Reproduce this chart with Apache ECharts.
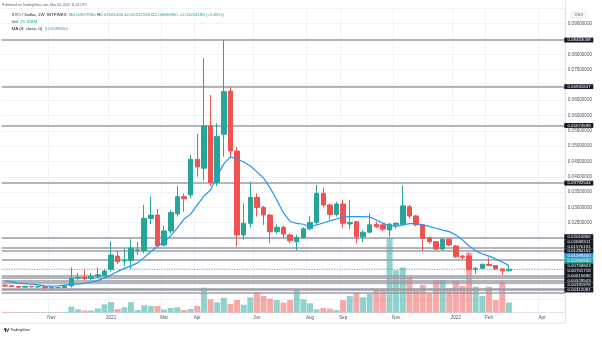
<!DOCTYPE html>
<html>
<head>
<meta charset="utf-8">
<script src="https://cdn.jsdelivr.net/npm/echarts@6/dist/echarts.min.js"></script>
<style>
html,body{margin:0;padding:0;background:#fff;}
#chart{width:602px;height:337px;}
</style>
</head>
<body>
<div id="chart"></div>
<script>
// Weekly XYO/USD candles (Bitfinex), Sep 2020 – Mar 2022
const opens = [0.0046,0.0044,0.0042,0.00395,0.0042,0.00405,0.0041,0.00375,0.00385,0.0038,
  0.0044,0.0069,0.0073,0.0068,0.0074,0.0077,0.0098,0.0141,0.0125,0.0126,
  0.0158,0.0159,0.0264,0.0275,0.0177,0.0223,0.0279,0.0335,0.0341,0.0457,
  0.0428,0.0566,0.0381,0.0539,0.0680,0.0484,0.0210,0.0248,0.0333,0.0300,
  0.0275,0.0221,0.0235,0.0210,0.0188,0.0202,0.0230,0.0251,0.0346,0.0308,
  0.0277,0.0311,0.0246,0.0253,0.0204,0.0219,0.0245,0.0243,0.0226,0.0243,
  0.0245,0.0302,0.0272,0.0243,0.0201,0.0188,0.0164,0.0196,0.0174,0.0141,
  0.0141,0.0098,0.0101,0.0114,0.0110,0.0099,0.0092796];
const highs = [0.0048,0.0046,0.0044,0.0044,0.0043,0.00425,0.0042,0.0040,0.0040,0.0046,
  0.01045,0.0086,0.0098,0.0086,0.0104,0.0098,0.0188,0.0158,0.0166,0.0196,
  0.0188,0.0308,0.0335,0.0295,0.0240,0.0290,0.0370,0.0345,0.0471,0.0540,
  0.0787,0.0667,0.0575,0.08463038,0.06941847,0.0497,0.0313,0.0384,0.0345,0.0305,
  0.0280,0.0245,0.0240,0.0215,0.0210,0.0235,0.0272,0.0373,0.0365,0.0312,
  0.0318,0.0324,0.0324,0.0256,0.0225,0.0281,0.0253,0.0246,0.0248,0.0252,
  0.0372,0.0308,0.0275,0.0246,0.0205,0.0190,0.0199,0.0199,0.0178,0.0145,
  0.0152,0.0105,0.0117,0.0136,0.0112,0.0101,0.010914];
const lows = [0.0040,0.0040,0.0038,0.00385,0.0039,0.00385,0.0036,0.0036,0.00365,0.0037,
  0.0038,0.0064,0.0062,0.0064,0.0070,0.0072,0.0090,0.0115,0.0108,0.0098,
  0.0145,0.0150,0.0245,0.0170,0.0172,0.0215,0.0270,0.0286,0.0330,0.0400,
  0.0387,0.0370,0.0370,0.0466,0.0461,0.0172,0.0195,0.0235,0.0270,0.0243,
  0.0183,0.0215,0.0200,0.0183,0.0161,0.0198,0.0225,0.0245,0.0300,0.0261,
  0.0270,0.0232,0.0229,0.0183,0.0188,0.0215,0.0232,0.0222,0.0204,0.0232,
  0.0240,0.0265,0.0238,0.0159,0.0182,0.0160,0.0161,0.0173,0.0135,0.0130,
  0.0094,0.0083,0.0099,0.0108,0.0097,0.0079,0.0091218];
const closes = [0.0043,0.00415,0.00395,0.0042,0.00405,0.0041,0.00375,0.00385,0.0038,0.0044,
  0.00686,0.0071,0.0068,0.0075,0.0080,0.0092,0.01446,0.01228,0.0128,0.0167,
  0.0161,0.0264,0.0275,0.01756,0.0223,0.0283,0.0335,0.0328,0.0457,0.0432,
  0.0566,0.0381,0.0531,0.0678,0.0484,0.0210,0.0248,0.0333,0.0300,0.0275,
  0.0221,0.0235,0.0213,0.0191,0.0202,0.0230,0.0251,0.0346,0.0308,0.0277,
  0.0311,0.0248,0.0251,0.0204,0.0219,0.0243,0.0237,0.0229,0.0245,0.0248,
  0.0305,0.0272,0.0243,0.0199,0.0188,0.0164,0.0196,0.0177,0.0139,0.0137,
  0.0098,0.0101,0.0114,0.0110,0.0099,0.00928,0.009809];
// weekly volume, millions
const volumes = [1.5,1.2,1.0,1.3,1.0,1.1,1.4,1.2,1.0,1.6,
  14.7,8.1,5,5,10.7,20.8,26.7,8.9,13.2,25.9,
  6.4,18.3,16.5,16.5,7.6,11.4,13.2,6.4,8.9,16.5,
  63,33.5,25.9,37.6,21.6,31.8,19.8,38.6,51.3,41.9,
  35.1,31.8,24.9,31.8,57.9,33.5,23.4,8.1,11.4,9.7,
  6.4,31.8,41.9,50,38.6,47,57.9,57.9,190,107.2,
  114.3,90.2,58.9,69.9,47,82.6,82.6,60.5,80.8,67.3,
  151.9,65.5,41.9,65.5,31.8,77.5,25.358];
// MA (9, close)
const maValues = [0.0060,0.0057,0.0053,0.0051,0.0049,0.0047,0.0044,0.0043,0.0044,0.0046,
  0.0048,0.0050,0.0052,0.0056,0.0061,0.0070,0.0079,0.0091,0.0101,0.0109,
  0.0119,0.0136,0.0156,0.0172,0.0187,0.0208,0.0233,0.0262,0.0278,0.0308,
  0.0337,0.0357,0.0403,0.0442,0.0465,0.0458,0.0448,0.0435,0.0416,0.0396,
  0.0363,0.0324,0.0282,0.0254,0.0248,0.0245,0.0237,0.0243,0.0249,0.0256,
  0.0262,0.0269,0.0270,0.0270,0.0270,0.0269,0.0259,0.0248,0.0241,0.0238,
  0.0243,0.0247,0.0247,0.0243,0.0238,0.0232,0.0226,0.0221,0.0210,0.0194,
  0.0174,0.0158,0.0148,0.0141,0.0132,0.0122,0.0109945];

// horizontal price levels drawn on the chart
const levels = [0.08463038,0.06941847,0.05674598,0.03792544,0.02010866,0.01686511,0.01570191,
  0.01284152,0.00758803,0.00701718,0.00615696,0.00529543,0.00331976,0.00312081];
const extraLevels = [0.0020];
const lastClose = 0.009809;
const lastMA = 0.0109945;

const priceTicks = [0.025,0.03,0.035,0.04,0.045,0.05,0.055,0.06,0.065,0.075,0.08,0.09];
const tickWeeks = ['2020-11-02','2021-01-04','2021-03-01','2021-04-05','2021-06-07','2021-08-02',
  '2021-09-06','2021-11-01','2022-01-03','2022-02-07','2022-04-04'];
const tickLabels = ['Nov','2021','Mar','Apr','Jun','Aug','Sep','Nov','2022','Feb','Apr'];

// weekly category axis, extended past the last bar into empty space
const weekCount = 85;
const weekStart = Date.UTC(2020, 8, 14);
const weeks = [];
for (let k = 0; k < weekCount; k++) {
  weeks.push(new Date(weekStart + k * 7 * 86400000).toISOString().slice(0, 10));
}

const UP = '#26a69a', DOWN = '#ef5350';
const TEXT = '#131722', AXIS_TEXT = '#50535e', GRID = '#f0f3fa';
const FONT = 'Liberation Sans, Arial, sans-serif';

const candleData = opens.map((o, k) => [o, closes[k], lows[k], highs[k]]);
const volumeData = volumes.map((v, k) => ({
  value: v,
  itemStyle: { color: closes[k] >= opens[k] ? 'rgba(38,166,154,0.5)' : 'rgba(239,83,80,0.5)' }
}));
const tickIndex = new Set(tickWeeks.map(w => weeks.indexOf(w)));
const tickText = {};
tickWeeks.forEach((w, k) => { tickText[w] = tickLabels[k]; });

const chart = echarts.init(document.getElementById('chart'), null, { renderer: 'canvas' });

const gridLeft = 1.7, gridWidth = 563.55, gridTop = 8.3;

const option = {
  animation: false,
  backgroundColor: '#ffffff',
  textStyle: { fontFamily: FONT },
  grid: [
    { left: gridLeft, top: gridTop, width: gridWidth, height: 306.3 },
    { left: gridLeft, top: gridTop, width: gridWidth, height: 304.2 }
  ],
  xAxis: [
    {
      type: 'category', gridIndex: 0, data: weeks, boundaryGap: true,
      axisLine: { show: false }, axisTick: { show: false }, axisLabel: { show: false },
      splitLine: { show: true, interval: (i) => tickIndex.has(i), lineStyle: { color: GRID, width: 1 } }
    },
    {
      type: 'category', gridIndex: 1, data: weeks, boundaryGap: true,
      axisLine: { show: true, lineStyle: { color: '#e0e3eb', width: 1 } },
      axisTick: { show: false },
      splitLine: { show: false },
      axisLabel: {
        show: true, interval: (i) => tickIndex.has(i), formatter: (w) => tickText[w] || '',
        fontSize: 4.6, color: AXIS_TEXT, margin: 2.9, fontFamily: FONT
      }
    }
  ],
  yAxis: [
    {
      type: 'value', gridIndex: 0, position: 'right', min: -0.005, max: 0.095, interval: 0.005,
      axisLine: { show: true, lineStyle: { color: '#e0e3eb', width: 1 } },
      axisTick: { show: false },
      splitLine: { show: true, showMinLine: false, lineStyle: { color: GRID, width: 1 } },
      axisLabel: {
        show: true, margin: 2.5, fontSize: 4.6, color: AXIS_TEXT, fontFamily: FONT,
        formatter: (v) => priceTicks.some(t => Math.abs(t - v) < 1e-9) ? v.toFixed(8) : ''
      }
    },
    {
      type: 'value', gridIndex: 1, min: 0, max: 772, show: false,
      splitLine: { show: false }
    }
  ],
  series: [
    {
      name: 'Vol', type: 'bar', xAxisIndex: 1, yAxisIndex: 1, data: volumeData,
      barWidth: '90%', z: 1, silent: true
    },
    {
      name: 'XYO', type: 'candlestick', xAxisIndex: 0, yAxisIndex: 0, data: candleData,
      barWidth: 5, z: 3, silent: true,
      itemStyle: { color: UP, color0: DOWN, borderColor: UP, borderColor0: DOWN, borderWidth: 1 },
      markLine: {
        silent: true, symbol: ['none', 'none'], animation: false, z: 2, precision: 8,
        label: { show: false },
        data: levels.concat(extraLevels).map(v => ({
          yAxis: v, lineStyle: { color: '#9a9da5', width: 1.6, type: 'solid' }
        })).concat([{ yAxis: lastClose, lineStyle: { color: UP, width: 0.8, type: [1, 1.5] } }])
      }
    },
    {
      name: 'MA', type: 'line', xAxisIndex: 0, yAxisIndex: 0, data: maValues,
      symbol: 'none', smooth: false, z: 4, silent: true,
      lineStyle: { color: '#2196f3', width: 1.2 }
    }
  ]
};

chart.setOption(option);

// right-hand price labels, stacked so they never overlap
function priceLabels() {
  const entries = levels.map(v => ({ v, text: v.toFixed(8), bg: TEXT }));
  entries.push({ v: lastMA, text: lastMA.toFixed(8), bg: '#2196f3' });
  entries.push({ v: lastClose, text: lastClose.toFixed(8), bg: UP });
  entries.forEach(e => { e.y = chart.convertToPixel({ yAxisIndex: 0 }, e.v); });
  entries.sort((a, b) => a.y - b.y);
  const gap = 4.85, floor = 290;
  for (let k = 1; k < entries.length; k++) entries[k].y = Math.max(entries[k].y, entries[k - 1].y + gap);
  entries[entries.length - 1].y = Math.min(entries[entries.length - 1].y, floor);
  for (let k = entries.length - 2; k >= 0; k--) entries[k].y = Math.min(entries[k].y, entries[k + 1].y - gap);
  const out = [];
  entries.forEach(e => {
    out.push({ type: 'rect', z: 50, shape: { x: 564.3, y: e.y - gap / 2, width: 29, height: gap },
      style: { fill: e.bg } });
    out.push({ type: 'text', z: 51, x: 579, y: e.y,
      style: { text: e.text, fill: '#ffffff', fontSize: 4.4, fontFamily: FONT, align: 'center', verticalAlign: 'middle' } });
  });
  return out;
}

const header = [
  { type: 'text', left: 2, top: 3.6, z: 60,
    style: { text: 'Published on TradingView.com, Mar 04, 2022 11:02 UTC', fill: '#5d606b', fontSize: 3.4, fontFamily: FONT } },
  { type: 'text', left: 11.5, top: 12.7, z: 60,
    style: {
      text: '{d|XYO / Dollar, 1W, BITFINEX}  {d|O}{g|0.00927960} {d|H}{g|0.01091400} {d|L}{g|0.00912180} {d|C}{g|0.00980900} {g|+0.00054190 (+5.85%)}',
      fontFamily: FONT, fontSize: 4.4,
      rich: { d: { fill: TEXT, fontSize: 4.4, fontFamily: FONT }, g: { fill: UP, fontSize: 4.4, fontFamily: FONT } }
    } },
  { type: 'text', left: 11.5, top: 19.9, z: 60,
    style: {
      text: '{d|Vol}  {g|25.358M}', fontFamily: FONT, fontSize: 4.4,
      rich: { d: { fill: TEXT, fontSize: 4.4, fontFamily: FONT }, g: { fill: UP, fontSize: 4.4, fontFamily: FONT } }
    } },
  { type: 'text', left: 11.5, top: 26.6, z: 60,
    style: {
      text: '{d|MA (9, close, 0)}  {b|0.01099450}', fontFamily: FONT, fontSize: 4.4,
      rich: { d: { fill: TEXT, fontSize: 4.4, fontFamily: FONT }, b: { fill: '#2196f3', fontSize: 4.4, fontFamily: FONT } }
    } },
  // currency badge on the price scale
  { type: 'rect', z: 60, shape: { x: 572, y: 12.3, width: 14, height: 5.6, r: 1 },
    style: { fill: '#ffffff', stroke: '#d1d4dc', lineWidth: 0.6 } },
  { type: 'text', z: 61, x: 579, y: 15.1,
    style: { text: 'USD', fill: AXIS_TEXT, fontSize: 4.2, fontFamily: FONT, align: 'center', verticalAlign: 'middle' } },
  // time scale border
  { type: 'line', z: 5, shape: { x1: 0, y1: 323.3, x2: 565.3, y2: 323.3 }, style: { stroke: '#e0e3eb', lineWidth: 1 } },
  { type: 'line', z: 5, shape: { x1: 565.3, y1: 0, x2: 565.3, y2: 323.3 }, style: { stroke: '#e0e3eb', lineWidth: 1 } },
  // TradingView mark
  { type: 'rect', z: 60, shape: { x: 4, y: 328.6, width: 2.6, height: 1.2 }, style: { fill: TEXT } },
  { type: 'rect', z: 60, shape: { x: 5, y: 328.6, width: 1.2, height: 3.2 }, style: { fill: TEXT } },
  { type: 'polygon', z: 60, shape: { points: [[6.8, 331.8], [8.2, 328.6], [9.2, 328.6], [7.8, 331.8]] }, style: { fill: TEXT } },
  { type: 'text', left: 10, top: 328.4, z: 60,
    style: { text: 'TradingView', fill: TEXT, fontSize: 3.6, fontFamily: FONT } }
];

chart.setOption({ graphic: header.concat(priceLabels()) });
</script>
</body>
</html>
